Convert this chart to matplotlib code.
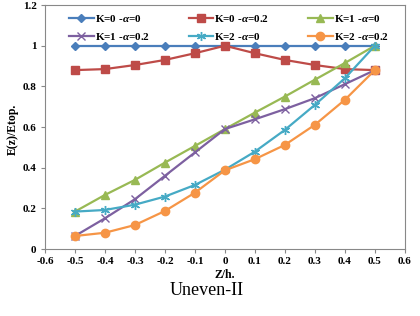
import matplotlib
matplotlib.use("Agg")
import matplotlib.pyplot as plt
from matplotlib.ticker import FormatStrFormatter

plt.rcParams['font.family'] = ['Liberation Serif', 'DejaVu Serif']
plt.rcParams['mathtext.fontset'] = 'custom'
plt.rcParams['mathtext.it'] = 'Liberation Serif:italic:bold'
plt.rcParams['mathtext.rm'] = 'Liberation Serif:bold'

z = [-0.5, -0.4, -0.3, -0.2, -0.1, 0.0, 0.1, 0.2, 0.3, 0.4, 0.5]

k0_a0 = [1, 1, 1, 1, 1, 1, 1, 1, 1, 1, 1]
k0_a02 = [0.88, 0.885, 0.905, 0.93, 0.963, 1.0, 0.963, 0.93, 0.905, 0.885, 0.88]
k1_a0 = [0.184, 0.266, 0.34, 0.425, 0.507, 0.59, 0.671, 0.75, 0.833, 0.915, 1.0]
k1_a02 = [0.064, 0.151, 0.245, 0.36, 0.475, 0.59, 0.638, 0.688, 0.742, 0.811, 0.88]
k2_a0 = [0.184, 0.192, 0.218, 0.258, 0.315, 0.39, 0.479, 0.586, 0.709, 0.84, 1.0]
k2_a02 = [0.064, 0.08, 0.118, 0.187, 0.277, 0.387, 0.442, 0.512, 0.611, 0.734, 0.88]

labels = [r'K=0 -$\alpha$=0', r'K=0 -$\alpha$=0.2', r'K=1 -$\alpha$=0',
          r'K=1 -$\alpha$=0.2', r'K=2 -$\alpha$=0', r'K=2 -$\alpha$=0.2']
series = [k0_a0, k0_a02, k1_a0, k1_a02, k2_a0, k2_a02]
colors = ['#4A7EBB', '#BE4B48', '#98B954', '#7D60A0', '#46AAC5', '#F69546']
markers = ['D', 's', '^', 'x', (6, 2, 0), 'o']
msizes = [4.5, 5.5, 6, 6, 6.5, 6]

fig = plt.figure(figsize=(4.2, 3.16), dpi=100)
ax = fig.add_axes([0.107, 0.212, 0.857, 0.772])

handles = []
for vals, lab, c, m, ms in zip(series, labels, colors, markers, msizes):
    h, = ax.plot(z, vals, color=c, marker=m, markersize=ms, linewidth=1.6,
                 markeredgecolor=c, markeredgewidth=1.0, label=lab)
    handles.append(h)

ax.set_xlim(-0.6, 0.6)
ax.set_ylim(0, 1.2)
ax.set_xticks([-0.6, -0.5, -0.4, -0.3, -0.2, -0.1, 0, 0.1, 0.2, 0.3, 0.4, 0.5, 0.6])
ax.set_yticks([0, 0.2, 0.4, 0.6, 0.8, 1.0, 1.2])
ax.xaxis.set_major_formatter(FormatStrFormatter('%g'))
ax.yaxis.set_major_formatter(FormatStrFormatter('%g'))
for lbl in ax.get_xticklabels() + ax.get_yticklabels():
    lbl.set_fontweight('bold')
    lbl.set_fontsize(8)
ax.tick_params(length=3, color='#888888', pad=3)
for s in ax.spines.values():
    s.set_color('#888888')
    s.set_linewidth(0.8)

ax.set_xlabel('Z/h.', fontsize=8.5, fontweight='bold', labelpad=2)
ax.set_ylabel('E(z)/Etop.', fontsize=8.5, fontweight='bold')
ax.yaxis.set_label_coords(-0.072, 0.49)

# row-wise legend order
order = [0, 3, 1, 4, 2, 5]
ax.legend([handles[i] for i in order], [labels[i] for i in order],
          ncol=3, loc='upper left', bbox_to_anchor=(0.055, 0.985), frameon=False,
          prop={'weight': 'bold', 'size': 8}, handlelength=2.2, columnspacing=3.5,
          handletextpad=0.1, labelspacing=0.6, borderaxespad=0.0)

fig.text(0.493, 0.082, 'Uneven-II', ha='center', va='center', fontsize=13)

fig.savefig('out.png', dpi=100)
